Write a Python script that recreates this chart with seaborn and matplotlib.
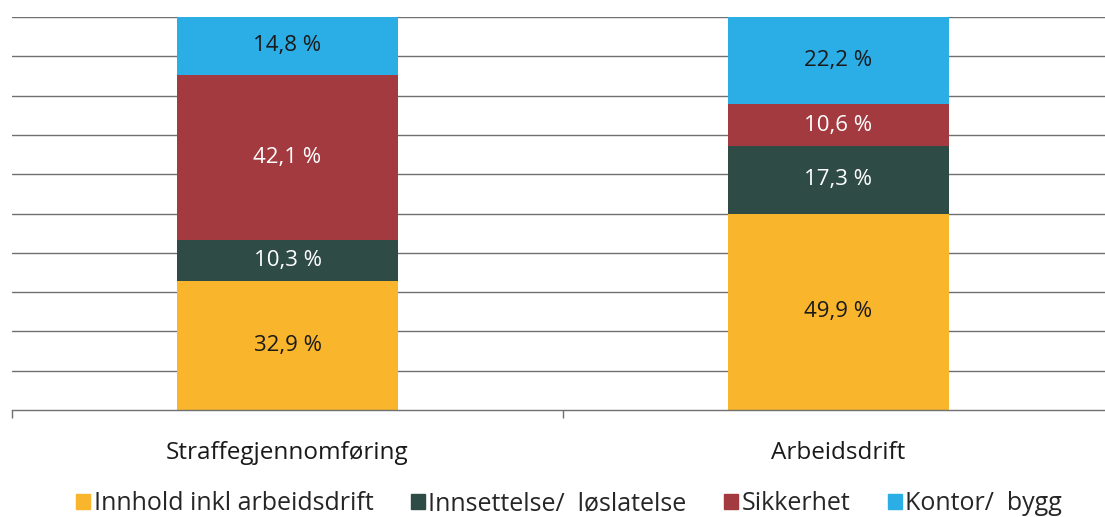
import numpy as np
import matplotlib
matplotlib.use('Agg')
import matplotlib.pyplot as plt
import matplotlib.patches as mpatches
import pandas as pd
import seaborn as sns

categories = ['Straffegjennomføring', 'Arbeidsdrift']
series = ['Innhold inkl arbeidsdrift', 'Innsettelse/  løslatelse', 'Sikkerhet', 'Kontor/  bygg']
innhold = [32.9, 49.9]
innsettelse = [10.3, 17.3]
sikkerhet = [42.1, 10.6]
kontor = [14.8, 22.2]

colors = ['#F9B52C', '#2E4C45', '#A33A3F', '#2BADE6']
text_colors = ['#1a1a1a', 'white', 'white', '#1a1a1a']

sns.set_style('white')
plt.rcParams['font.family'] = ['Open Sans', 'DejaVu Sans']

df = pd.DataFrame({'kategori': categories,
                   series[0]: innhold, series[1]: innsettelse,
                   series[2]: sikkerhet, series[3]: kontor})
vals = df[series].to_numpy()
cum = np.cumsum(vals, axis=1)

fig = plt.figure(figsize=(11.05, 5.17), dpi=100)
ax = fig.add_axes([12 / 1105, 107 / 517, 1102 / 1105, 393 / 517])

# stacked bars drawn from the top layer down
for i in range(len(series) - 1, -1, -1):
    sns.barplot(x=df['kategori'], y=cum[:, i], color=colors[i], width=0.4,
                saturation=1, ax=ax, zorder=2, linewidth=0)

for j in range(len(categories)):
    for i in range(len(series)):
        ax.text(j, cum[j, i] - vals[j, i] / 2, f'{vals[j, i]:.1f} %'.replace('.', ','),
                ha='center', va='center', fontsize=16, color=text_colors[i], zorder=3)

ax.set_ylim(0, 100)
ax.set_xlim(-0.5, 1.5)
ax.set_yticks(np.arange(10, 101, 10))
ax.set_yticklabels([])
ax.yaxis.grid(True, color='#707070', linewidth=1.0, zorder=0)
ax.tick_params(axis='y', length=0)
for s in ['left', 'right', 'top']:
    ax.spines[s].set_visible(False)
ax.spines['bottom'].set_color('#707070')
ax.spines['bottom'].set_linewidth(1.0)
ax.set_xlabel('')
ax.set_ylabel('')
ax.set_xticks([0, 1])
ax.set_xticklabels(categories, fontsize=17.5, color='#1a1a1a')
ax.set_xticks([-0.5, 0.5, 1.5], minor=True)
ax.tick_params(axis='x', which='major', bottom=False, length=0, pad=22)
ax.tick_params(axis='x', which='minor', bottom=True, length=6, color='#707070', width=1.0, direction='out')

handles = [mpatches.Patch(color=c, label=s) for c, s in zip(colors, series)]
fig.legend(handles=handles, loc='lower center', bbox_to_anchor=(0.515, -0.042), ncol=4,
           frameon=False, fontsize=18, handlelength=0.55, handleheight=0.55,
           handletextpad=0.15, columnspacing=1.5)

fig.savefig('out.png', dpi=100)
